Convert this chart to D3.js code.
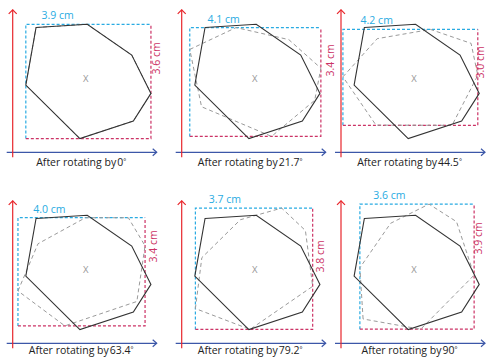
<!DOCTYPE html>
<html>
<head>
<meta charset="utf-8">
<script src="https://cdn.jsdelivr.net/npm/d3@7"></script>
<style>
  html, body { margin: 0; padding: 0; background: #fff; }
  svg { display: block; font-family: "Open Sans", "Noto Sans", sans-serif; }
</style>
</head>
<body>
<svg id="chart" width="487" height="358"></svg>
<script>
// ---- data ----
const angles = [0, 21.7, 44.5, 63.4, 79.2, 90];            // rotation angle (degrees)
const angleLabels = ["0", "21.7", "44.5", "63.4", "79.2", "90"];
const widthLabels = ["3.9", "4.1", "4.2", "4.0", "3.7", "3.6"];   // cm
const heightLabels = ["3.6", "3.4", "3.0", "3.4", "3.8", "3.9"];  // cm
// heptagon vertices in cm, relative to its centre (x right, y up)
const polyX = [-1.55, 0.05, 1.44, 2.04, 1.49, -0.18, -1.87];
const polyY = [1.59, 1.69, 0.73, -0.47, -1.33, -1.88, -0.21];

// ---- layout ----
const colX = [12.7, 181.7, 341];
const rowY = [152.3, 343.3];
const captionDy = [13.4, 11];
const pxPerCm = 32;
const centre = { x: 2.28, y: 2.31 };  // cm from axis origin
// label placement nudges (px) per panel
const widthLabelDx = [15.7, 17.7, 17.7, 15.4, 13.4, 13.4];
const heightLabelDx = [9.5, 13.5, 6.2, 11.5, 11.5, 7.5];
const heightLabelDy = [-20, -18, -16, -23, -13, -31];
const C = {
  red: "#e8262c", blue: "#3c57a8", cyan: "#29abe2", mag: "#cc3366",
  poly: "#333", dashPoly: "#9a9a9a", mark: "#999"
};

const svg = d3.select("#chart");
const vertices = polyX.map((x, i) => ({ x, y: polyY[i] }));

angles.forEach((ang, i) => {
  const ox = colX[i % 3], row = Math.floor(i / 3), oy = rowY[row];
  const xs = d3.scaleLinear().domain([0, 1]).range([ox, ox + pxPerCm]);
  const ys = d3.scaleLinear().domain([0, 1]).range([oy, oy - pxPerCm]);
  const g = svg.append("g");

  const t = ang * Math.PI / 180, c = Math.cos(t), s = Math.sin(t);
  const base = vertices.map(v => ({ x: centre.x + v.x, y: centre.y + v.y }));
  const rot = vertices.map(v => ({ x: centre.x + v.x * c - v.y * s, y: centre.y + v.x * s + v.y * c }));

  const line = d3.line().x(d => xs(d.x)).y(d => ys(d.y)).curve(d3.curveLinearClosed);

  // axes
  const ax0 = xs.invert(ox - 6), ax1 = xs.invert(ox + 144);
  const ay0 = ys.invert(oy + 5), ay1 = ys.invert(oy - 142.5);
  g.append("line").attr("x1", xs(ax0)).attr("x2", xs(ax1)).attr("y1", ys(0)).attr("y2", ys(0))
    .attr("stroke", C.blue).attr("stroke-width", 1.2);
  g.append("path").attr("d", `M${xs(ax1) - 4},${ys(0) - 3.5}L${xs(ax1)},${ys(0)}L${xs(ax1) - 4},${ys(0) + 3.5}`)
    .attr("fill", "none").attr("stroke", C.blue).attr("stroke-width", 1.2);
  g.append("line").attr("x1", xs(0)).attr("x2", xs(0)).attr("y1", ys(ay0)).attr("y2", ys(ay1))
    .attr("stroke", C.red).attr("stroke-width", 1.2);
  g.append("path").attr("d", `M${xs(0) - 4},${ys(ay1) + 4}L${xs(0)},${ys(ay1)}L${xs(0) + 4},${ys(ay1) + 4}`)
    .attr("fill", "none").attr("stroke", C.red).attr("stroke-width", 1.2);

  // bounding box of rotated shape
  const minX = d3.min(rot, d => d.x), maxX = d3.max(rot, d => d.x);
  const minY = d3.min(rot, d => d.y), maxY = d3.max(rot, d => d.y);
  const L = xs(minX), R = xs(maxX), T = ys(maxY), B = ys(minY);
  const dash = "3,2";
  g.append("path").attr("d", `M${L},${B}L${L},${T}L${R},${T}`)
    .attr("fill", "none").attr("stroke", C.cyan).attr("stroke-width", 1.2).attr("stroke-dasharray", dash);
  g.append("path").attr("d", `M${L},${B}L${R},${B}L${R},${T}`)
    .attr("fill", "none").attr("stroke", C.mag).attr("stroke-width", 1.2).attr("stroke-dasharray", dash);

  // rotated (dashed) and original (solid) shapes
  g.append("path").attr("d", line(rot)).attr("fill", "none")
    .attr("stroke", C.dashPoly).attr("stroke-width", 1).attr("stroke-dasharray", "4,3");
  g.append("path").attr("d", line(base)).attr("fill", "none")
    .attr("stroke", C.poly).attr("stroke-width", 1.1).attr("stroke-linejoin", "miter");

  // centre mark
  g.append("text").attr("x", xs(centre.x)).attr("y", ys(centre.y) + 3.4)
    .attr("text-anchor", "middle").attr("font-size", 9.5).attr("fill", C.mark).text("X");

  // width label
  g.append("text").attr("x", L + widthLabelDx[i]).attr("y", T - 5)
    .attr("font-size", 10.5).attr("fill", C.cyan).text(widthLabels[i] + " cm");

  // height label
  const hy = ys(centre.y) + heightLabelDy[i];
  g.append("text").attr("transform", `translate(${R + heightLabelDx[i]},${hy}) rotate(-90)`)
    .attr("text-anchor", "middle").attr("font-size", 10.5).attr("fill", C.mag).text(heightLabels[i] + " cm");

  // caption
  const cap = g.append("text").attr("x", ox + 68.5).attr("y", oy + captionDy[row])
    .attr("text-anchor", "middle").attr("font-size", 10.5).attr("fill", "#222");
  cap.append("tspan").text("After rotating by");
  cap.append("tspan").attr("dx", 1).text(angleLabels[i]);
  cap.append("tspan").attr("font-size", 7).attr("dy", -2).text("°");
});
</script>
</body>
</html>
